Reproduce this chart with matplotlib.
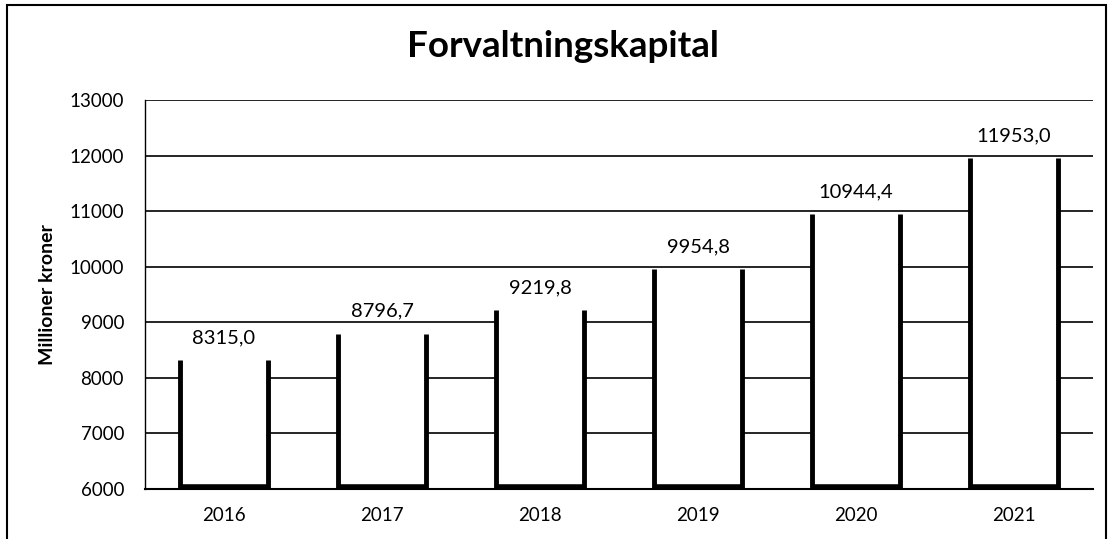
import matplotlib
matplotlib.use('Agg')
import matplotlib.pyplot as plt
from matplotlib.patches import Rectangle

# Data
years = ['2016', '2017', '2018', '2019', '2020', '2021']
values = [8315.0, 8796.7, 9219.8, 9954.8, 10944.4, 11953.0]
labels = ['8315,0', '8796,7', '9219,8', '9954,8', '10944,4', '11953,0']
yticks = [6000, 7000, 8000, 9000, 10000, 11000, 12000, 13000]

plt.rcParams['font.family'] = ['Lato', 'DejaVu Sans']

fig = plt.figure(figsize=(11.09, 5.39), dpi=100)
ax = fig.add_axes([0.1307, 0.0928, 0.855, 0.7217])

BAR_W = 0.56
x = list(range(len(years)))

# gridlines behind white bars
for t in yticks:
    ax.axhline(t, color='black', linewidth=1.2, zorder=1)

bars = ax.bar(x, [v - 6000 for v in values], bottom=6000, width=BAR_W,
              color='white', edgecolor='none', zorder=2)

# thick sides and bottom, no top edge (as in the scan)
for b in bars:
    x0 = b.get_x()
    x1 = x0 + b.get_width()
    top = b.get_y() + b.get_height()
    ax.plot([x0, x0], [6000, top], color='black', linewidth=3.5, zorder=3,
            solid_capstyle='butt')
    ax.plot([x1, x1], [6000, top], color='black', linewidth=3.5, zorder=3,
            solid_capstyle='butt')
    ax.plot([x0, x1], [6040, 6040], color='black', linewidth=4, zorder=3,
            solid_capstyle='butt')

for xi, v, lab in zip(x, values, labels):
    ax.text(xi, v + 400, lab, ha='center', va='center', fontsize=14.5, zorder=4)

ax.set_xlim(-0.5, len(years) - 0.5)
ax.set_ylim(6000, 13000)
ax.set_yticks(yticks)
ax.set_yticklabels([str(t) for t in yticks], fontsize=13.5)
ax.set_xticks(x)
ax.set_xticklabels(years, fontsize=13.5)
ax.tick_params(axis='both', length=0)
ax.tick_params(axis='y', pad=15)
ax.tick_params(axis='x', pad=13)

for s in ['top', 'right']:
    ax.spines[s].set_visible(False)
ax.spines['left'].set_linewidth(1.0)
ax.spines['left'].set_linestyle((0, (6, 1)))
ax.spines['bottom'].set_linewidth(1.5)

ax.set_ylabel('Millioner kroner', fontsize=14, fontweight='bold', labelpad=10)

fig.text(0.508, 0.913, 'Forvaltningskapital', ha='center', va='center',
         fontsize=26.5, fontweight='bold')

# outer frame of the chart
fig.patches.append(Rectangle((0.006, -0.01), 0.991, 1.0, transform=fig.transFigure,
                             fill=False, edgecolor='black', linewidth=1.5))

fig.savefig('out.png', dpi=100)
